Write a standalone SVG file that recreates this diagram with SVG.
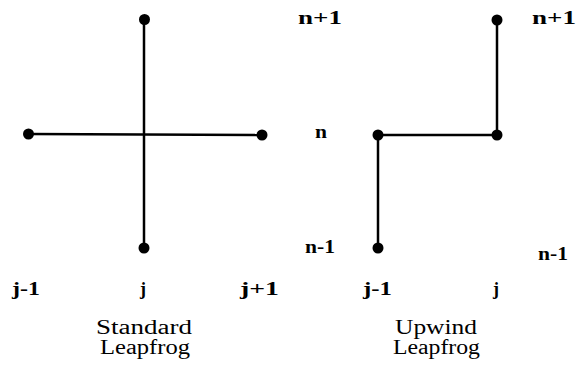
<svg xmlns="http://www.w3.org/2000/svg" width="586" height="366" viewBox="0 0 586 366">
<style>
.edge{stroke:#000;stroke-width:2.5;fill:none;stroke-linecap:butt}
.dot{fill:#000}
.lbl{font-family:'Liberation Serif','Times New Roman','DejaVu Serif',serif;font-weight:bold;font-size:18px;fill:#000}
.ttl{font-family:'Liberation Serif','Times New Roman','DejaVu Serif',serif;font-size:20px;fill:#000}
</style>
<rect width="586" height="366" fill="#fff"/>
<g id="connectors">
<line class="edge" x1="144" y1="19" x2="144" y2="248"/>
<line class="edge" x1="29" y1="134" x2="262" y2="135"/>
<line class="edge" x1="378" y1="248" x2="378" y2="135"/>
<line class="edge" x1="378" y1="135" x2="497" y2="135"/>
<line class="edge" x1="497" y1="135" x2="497" y2="20"/>
</g>
<g id="std-top"><circle class="dot" cx="144.5" cy="19.5" r="5.5"/></g>
<g id="std-left"><circle class="dot" cx="28.5" cy="134" r="5.5"/></g>
<g id="std-right"><circle class="dot" cx="262" cy="135" r="5.5"/></g>
<g id="std-bottom"><circle class="dot" cx="144" cy="248" r="5.5"/></g>
<g id="up-top"><circle class="dot" cx="497" cy="20" r="5.5"/></g>
<g id="up-mid-right"><circle class="dot" cx="497" cy="135" r="5.5"/></g>
<g id="up-mid-left"><circle class="dot" cx="378" cy="135" r="5.5"/></g>
<g id="up-bottom"><circle class="dot" cx="378" cy="248" r="5.5"/></g>
<g id="labels">
<text class="lbl" x="298" y="24" textLength="44" lengthAdjust="spacingAndGlyphs">n+1</text>
<text class="lbl" x="315" y="138" textLength="12" lengthAdjust="spacingAndGlyphs">n</text>
<text class="lbl" x="305" y="253" textLength="30" lengthAdjust="spacingAndGlyphs">n-1</text>
<text class="lbl" x="532" y="24" textLength="44" lengthAdjust="spacingAndGlyphs">n+1</text>
<text class="lbl" x="538" y="260" textLength="30" lengthAdjust="spacingAndGlyphs">n-1</text>
<text class="lbl" x="12" y="295" textLength="28" lengthAdjust="spacingAndGlyphs">j-1</text>
<text class="lbl" x="140" y="295">j</text>
<text class="lbl" x="240" y="295" textLength="39" lengthAdjust="spacingAndGlyphs">j+1</text>
<text class="lbl" x="363" y="295" textLength="29" lengthAdjust="spacingAndGlyphs">j-1</text>
<text class="lbl" x="493" y="295">j</text>
<text class="ttl" x="96" y="334" textLength="96" lengthAdjust="spacingAndGlyphs">Standard</text>
<text class="ttl" x="100" y="354" textLength="90" lengthAdjust="spacingAndGlyphs">Leapfrog</text>
<text class="ttl" x="395" y="334" textLength="82" lengthAdjust="spacingAndGlyphs">Upwind</text>
<text class="ttl" x="393" y="354" textLength="87" lengthAdjust="spacingAndGlyphs">Leapfrog</text>
</g>
</svg>
